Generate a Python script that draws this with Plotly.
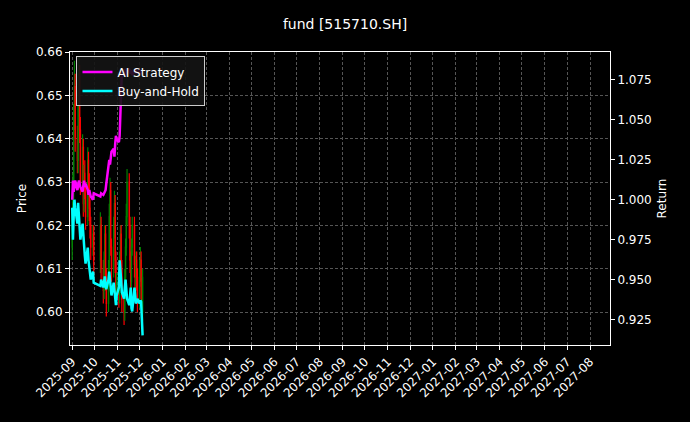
import pandas as pd
import plotly.graph_objects as go

# trading days (China, Oct holiday removed)
DATES = [d for d in pd.bdate_range("2025-09-01", "2025-12-05")
         if not (pd.Timestamp("2025-10-01") <= d <= pd.Timestamp("2025-10-08"))]

OPENS = [0.615, 0.620, 0.628, 0.645, 0.652, 0.640, 0.635, 0.648, 0.655, 0.642, 0.630, 0.638, 0.625, 0.632, 0.628, 0.622, 0.635, 0.630, 0.624, 0.620, 0.615, 0.618,
         0.612, 0.620, 0.610, 0.605, 0.612, 0.618, 0.608, 0.602, 0.610, 0.622, 0.628, 0.615, 0.610, 0.620, 0.625, 0.612, 0.606,
         0.607, 0.604, 0.612, 0.618, 0.610, 0.603, 0.600, 0.608, 0.615, 0.622, 0.630, 0.620, 0.612, 0.607, 0.615, 0.620, 0.611, 0.605, 0.612, 0.608,
         0.603, 0.610, 0.612, 0.606, 0.600]
CLOSES = [0.620, 0.628, 0.645, 0.652, 0.640, 0.635, 0.648, 0.655, 0.642, 0.630, 0.638, 0.625, 0.632, 0.628, 0.622, 0.635, 0.630, 0.624, 0.620, 0.615, 0.618, 0.612,
          0.620, 0.610, 0.605, 0.612, 0.618, 0.608, 0.602, 0.610, 0.622, 0.628, 0.615, 0.610, 0.620, 0.625, 0.612, 0.606, 0.607,
          0.604, 0.612, 0.618, 0.610, 0.603, 0.600, 0.608, 0.615, 0.622, 0.630, 0.620, 0.612, 0.607, 0.615, 0.620, 0.611, 0.605, 0.612, 0.608, 0.603,
          0.610, 0.612, 0.606, 0.600, 0.608]
HIGHS = [0.623, 0.632, 0.648, 0.658, 0.655, 0.643, 0.651, 0.659, 0.657, 0.645, 0.641, 0.640, 0.634, 0.635, 0.630, 0.638, 0.637, 0.632, 0.626, 0.622, 0.620, 0.620,
         0.623, 0.622, 0.612, 0.614, 0.620, 0.620, 0.610, 0.612, 0.625, 0.631, 0.630, 0.617, 0.622, 0.628, 0.627, 0.614, 0.609,
         0.609, 0.614, 0.620, 0.620, 0.612, 0.605, 0.610, 0.617, 0.625, 0.633, 0.632, 0.622, 0.614, 0.617, 0.622, 0.622, 0.613, 0.614, 0.614, 0.610,
         0.612, 0.615, 0.614, 0.608, 0.610]
LOWS = [0.612, 0.617, 0.625, 0.642, 0.637, 0.632, 0.632, 0.645, 0.639, 0.627, 0.628, 0.622, 0.623, 0.626, 0.619, 0.620, 0.627, 0.621, 0.617, 0.612, 0.613, 0.609,
        0.609, 0.607, 0.602, 0.603, 0.610, 0.605, 0.599, 0.600, 0.608, 0.619, 0.613, 0.607, 0.608, 0.617, 0.609, 0.603, 0.603,
        0.601, 0.602, 0.610, 0.607, 0.600, 0.597, 0.598, 0.606, 0.613, 0.620, 0.617, 0.609, 0.604, 0.605, 0.613, 0.608, 0.602, 0.603, 0.605, 0.600,
        0.601, 0.607, 0.603, 0.597, 0.598]

AI_RETURN = [1.000, 1.012, 1.005, 1.010, 1.012, 1.006, 1.010, 1.012, 1.010, 1.008, 1.005, 1.010, 1.012, 1.008, 1.010, 1.006, 1.003, 1.006, 1.003, 1.002, 1.000, 1.004,
             1.002, 1.004, 1.003, 1.004, 1.004, 1.006, 1.010, 1.020, 1.025, 1.022, 1.028, 1.030, 1.032, 1.027, 1.035, 1.040, 1.038,
             1.036, 1.040, 1.050, 1.065, 1.080, 1.078, 1.082, 1.080, 1.078, 1.080, 1.082, 1.079, 1.080, 1.081, 1.078, 1.080, 1.082, 1.080, 1.079, 1.080,
             1.081, 1.080, 1.079, 1.080, 1.080]
BH_RETURN = [0.995, 0.975, 0.990, 1.000, 0.995, 0.985, 0.998, 0.990, 0.980, 0.975, 0.985, 0.975, 0.970, 0.965, 0.960, 0.970, 0.962, 0.958, 0.955, 0.950, 0.955, 0.948,
             0.946, 0.950, 0.945, 0.950, 0.952, 0.946, 0.944, 0.950, 0.955, 0.950, 0.945, 0.940, 0.948, 0.944, 0.938, 0.934, 0.940,
             0.945, 0.962, 0.958, 0.950, 0.942, 0.938, 0.945, 0.950, 0.944, 0.938, 0.934, 0.940, 0.945, 0.932, 0.930, 0.945, 0.940, 0.935, 0.936, 0.938,
             0.935, 0.937, 0.936, 0.920, 0.915]

n = len(CLOSES)
dates = DATES[:n]
grid = dict(showgrid=True, gridcolor="#555", griddash="3px,2px", gridwidth=0.5)

fig = go.Figure()
fig.add_trace(go.Candlestick(
    x=dates, open=OPENS[:n], high=HIGHS[:n], low=LOWS[:n], close=CLOSES[:n],
    increasing=dict(line=dict(color="green", width=1.2), fillcolor="green"),
    decreasing=dict(line=dict(color="red", width=1.2), fillcolor="red"),
    showlegend=False, yaxis="y",
))
fig.add_trace(go.Scatter(x=dates, y=AI_RETURN[:n], name="AI Strategy", mode="lines",
                         line=dict(color="magenta", width=2.5), yaxis="y2"))
fig.add_trace(go.Scatter(x=dates, y=BH_RETURN[:n], name="Buy-and-Hold", mode="lines",
                         line=dict(color="cyan", width=2.5), yaxis="y2"))

fig.update_layout(
    width=690, height=422,
    paper_bgcolor="black", plot_bgcolor="black",
    font=dict(family="DejaVu Sans", color="white", size=12),
    title=dict(text="fund [515710.SH]", x=0.5, y=0.955, xanchor="center", font=dict(size=14)),
    margin=dict(l=70, r=80, t=52, b=77),
    xaxis=dict(type="date", range=["2025-08-29", "2027-08-28"], rangeslider=dict(visible=False),
               dtick="M1", tickformat="%Y-%m", tickangle=-45, ticks="outside", ticklen=4,
               tickcolor="white", showline=True, linecolor="white", mirror=True, **grid),
    yaxis=dict(title=dict(text="Price", standoff=6, font=dict(size=12)), range=[0.5924, 0.66], dtick=0.01,
               tickformat=".2f", ticks="outside", ticklen=4, tickcolor="white", showline=True,
               linecolor="white", **grid),
    yaxis2=dict(title=dict(text="Return", standoff=6, font=dict(size=12)), overlaying="y", side="right",
                range=[0.909, 1.0925], dtick=0.025, tickformat=".3f", ticks="outside", ticklen=4,
                tickcolor="white", showline=True, linecolor="white", showgrid=False),
    legend=dict(x=0.012, y=0.985, xanchor="left", yanchor="top", bgcolor="rgba(20,20,20,0.9)",
                bordercolor="#ccc", borderwidth=1, font=dict(size=12)),
)

fig.write_html("out.html", config={"displayModeBar": False},
               post_script="document.body.style.margin='0';document.body.style.background='black';")
